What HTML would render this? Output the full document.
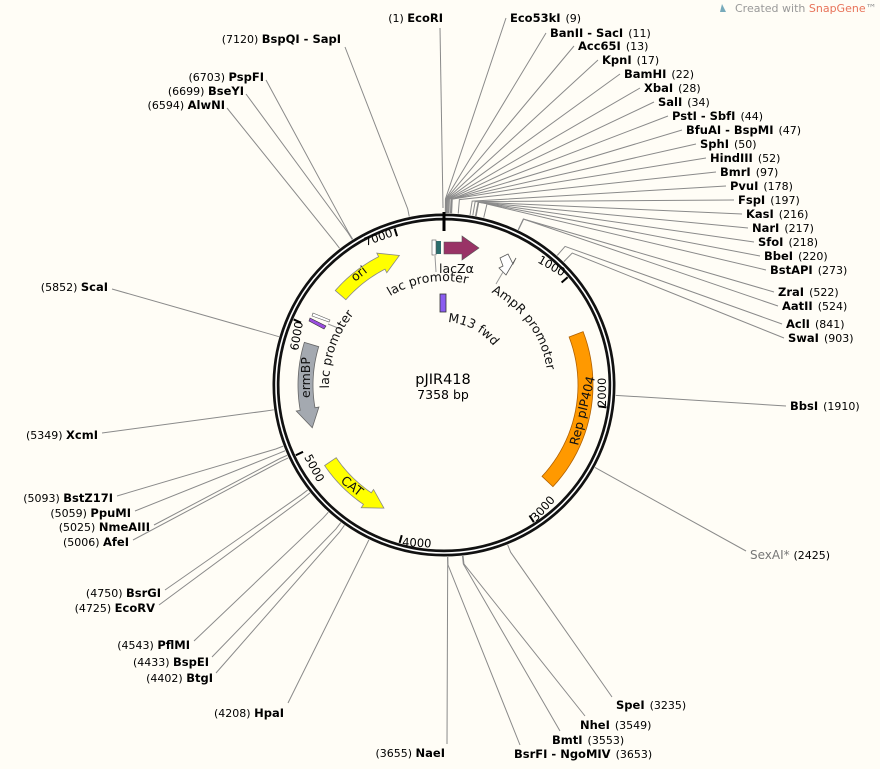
<!DOCTYPE html>
<html><head><meta charset="utf-8"><style>
body{margin:0;background:#fffdf6;}
svg{display:block;font-family:"DejaVu Sans","Liberation Sans",sans-serif;}
.n{font-weight:bold;font-size:11.5px;fill:#000}
.p{font-size:11px;fill:#000}
</style></head><body>
<svg id="s" width="880" height="769" viewBox="0 0 880 769" xmlns="http://www.w3.org/2000/svg">
<rect width="880" height="769" fill="#fffdf6"/>
<g id="lines" stroke="#8a8a8a" stroke-width="1" fill="none"></g>
<circle cx="444" cy="385" r="168" fill="none" stroke="#111" stroke-width="7"/>
<circle cx="444" cy="385" r="168" fill="none" stroke="#fff" stroke-width="1.6"/>
<line x1="444" y1="212" x2="444" y2="231" stroke="#000" stroke-width="3"/>
<g id="ticks" stroke="#000" stroke-width="2"></g>
<g font-size="11.5" fill="#000">
<text transform="translate(366,246) rotate(-20)">7000</text>
<text transform="translate(537,262) rotate(30)">1000</text>
<text transform="translate(606,407) rotate(-90)">2000</text>
<text transform="translate(536,522) rotate(-48)">3000</text>
<text transform="translate(402,546) rotate(3)">4000</text>
<text transform="translate(304,457) rotate(62)">5000</text>
<text transform="translate(298,351) rotate(-80)">6000</text>
</g>
<g id="feat"></g>
<defs>
<path id="a1" d="M 354 333 A 104 104 0 0 1 534 333"/>
<path id="a2" d="M 444 281 A 104 104 0 0 1 548 385"/>
<path id="a3" d="M 330 400 A 114 114 0 0 1 444 271"/>
<path id="a4" d="M 444 322 A 63 63 0 0 1 507 385"/>
</defs>
<g font-size="12.5" fill="#111">
<text><textPath href="#a1" startOffset="24%">lac promoter</textPath></text>
<text><textPath href="#a2" startOffset="30%">AmpR promoter</textPath></text>
<text><textPath href="#a3" startOffset="6%">lac promoter</textPath></text>
<text><textPath href="#a4" startOffset="4%">M13 fwd</textPath></text>
<text x="439" y="273">lacZα</text>
<text transform="translate(355,282) rotate(-38)">ori</text>
<text transform="translate(310,398) rotate(-90)">ermBP</text>
<text transform="translate(340,482) rotate(38)">CAT</text>
<text transform="translate(578,446) rotate(-76)">Rep pIP404</text>
</g>
<text x="443" y="384" text-anchor="middle" font-size="14.5" fill="#000">pJIR418</text>
<text x="443" y="399" text-anchor="middle" font-size="12.5" fill="#000">7358 bp</text>
<g id="labels"></g>
<text x="735" y="12" font-size="11" fill="#999">Created with <tspan fill="#e8735a">SnapGene</tspan>™</text>
<path d="M722 4 l4 8 h-6z" fill="#7ab"/>
</svg>
<script>
var cx=444,cy=385,N=7358,NS="http://www.w3.org/2000/svg";
function P(bp,r){var a=bp/N*2*Math.PI;return [cx+r*Math.sin(a),cy-r*Math.cos(a)];}
function A(deg,r){var a=deg*Math.PI/180;return [cx+r*Math.sin(a),cy-r*Math.cos(a)];}
function el(t,at,p){var e=document.createElementNS(NS,t);for(var k in at)e.setAttribute(k,at[k]);p.appendChild(e);return e;}
var L=document.getElementById('lines'),G=document.getElementById('labels'),T=document.getElementById('ticks'),F=document.getElementById('feat');
for(var k=1;k<=7;k++){var a=P(k*1000,164),b=P(k*1000,156);el('line',{x1:a[0],y1:a[1],x2:b[0],y2:b[1]},T);}
var R=[
[9,'Eco53kI','(9)',510,18],[11,'BanII - SacI','(11)',550,33],[13,'Acc65I','(13)',578,46],[17,'KpnI','(17)',602,60],
[22,'BamHI','(22)',624,74],[28,'XbaI','(28)',644,88],[34,'SalI','(34)',658,102],[44,'PstI - SbfI','(44)',672,116],
[47,'BfuAI - BspMI','(47)',686,130],[50,'SphI','(50)',700,144],[52,'HindIII','(52)',710,158],[97,'BmrI','(97)',720,172],
[178,'PvuI','(178)',730,186],[197,'FspI','(197)',738,200],[216,'KasI','(216)',746,214],[217,'NarI','(217)',752,228],
[218,'SfoI','(218)',758,242],[220,'BbeI','(220)',764,256],[273,'BstAPI','(273)',770,270],[522,'ZraI','(522)',778,292],
[524,'AatII','(524)',782,306],[841,'AclI','(841)',786,324],[903,'SwaI','(903)',788,338],[1910,'BbsI','(1910)',790,406]];
R.forEach(function(d){var a=P(d[0],172),b=P(d[0],178+ (d[0]<300?8:6));
 el('polyline',{points:a+' '+b+' '+(d[3]-4)+','+d[4]},L);
 var t=el('text',{x:d[3],y:d[4]+4},G);var s=el('tspan',{'class':'n'},t);s.textContent=d[1];var q=el('tspan',{'class':'p',dx:5},t);q.textContent=d[2];});
(function(){var a=P(2425,172);el('line',{x1:a[0],y1:a[1],x2:746,y2:551},L);
var t=el('text',{x:750,y:559,fill:'#777','font-size':'12'},G);t.textContent='SexAI*  ';var q=el('tspan',{'font-size':'11',fill:'#000'},t);q.textContent='(2425)';})();
[[3235,'SpeI','(3235)',616,705,612,697],[3549,'NheI','(3549)',580,725,585,716],[3553,'BmtI','(3553)',552,740,560,731],[3653,'BsrFI - NgoMIV','(3653)',514,754,520,745]].forEach(function(d){
 var a=P(d[0],172),b=P(d[0],180);el('polyline',{points:a+' '+b+' '+d[5]+','+d[6]},L);
 var t=el('text',{x:d[3],y:d[4]+4},G);var s=el('tspan',{'class':'n'},t);s.textContent=d[1];var q=el('tspan',{'class':'p',dx:5},t);q.textContent=d[2];});
var Lf=[[1,'EcoRI','(1)',443,18,440,28],[7120,'BspQI - SapI','(7120)',341,39,345,47],[6703,'PspFI','(6703)',264,77,266,80],
[6699,'BseYI','(6699)',244,91,246,94],[6594,'AlwNI','(6594)',225,105,227,108],[5852,'ScaI','(5852)',108,287,112,289],
[5349,'XcmI','(5349)',98,435,102,433],[5093,'BstZ17I','(5093)',113,498,117,496],[5059,'PpuMI','(5059)',131,513,135,511],
[5025,'NmeAIII','(5025)',150,527,154,525],[5006,'AfeI','(5006)',129,542,133,540],[4750,'BsrGI','(4750)',161,593,165,590],
[4725,'EcoRV','(4725)',155,608,159,605],[4543,'PflMI','(4543)',190,645,194,641],[4433,'BspEI','(4433)',209,662,212,657],
[4402,'BtgI','(4402)',213,678,216,673],[4208,'HpaI','(4208)',284,713,288,703],[3655,'NaeI','(3655)',445,753,447,744]];
Lf.forEach(function(d){var a=P(d[0],172),b=P(d[0],180);
 if(d[0]==1){el('line',{x1:443,y1:208,x2:d[5],y2:d[6]},L);}else el('polyline',{points:a+' '+b+' '+d[5]+','+d[6]},L);
 var t=el('text',{x:d[3],y:d[4]+4,'text-anchor':'end'},G);var q=el('tspan',{'class':'p'},t);q.textContent=d[2]+'  ';var s=el('tspan',{'class':'n'},t);s.textContent=d[1];});
function arc(d1,d2,r1,r2,head,fill,stroke){
 var p=[],i,n=24,hd=8*(d2>d1?1:-1);
 var s1=d1,s2=d2;if(head==1)s2=d2-hd;if(head==-1)s1=d1+hd;
 for(i=0;i<=n;i++)p.push(A(s1+(s2-s1)*i/n,r2));
 if(head==1){p.push(A(s2,r2+4));p.push(A(d2,(r1+r2)/2));p.push(A(s2,r1-4));}
 for(i=n;i>=0;i--)p.push(A(s1+(s2-s1)*i/n,r1));
 if(head==-1){p.push(A(s1,r1-4));p.push(A(d1,(r1+r2)/2));p.push(A(s1,r2+4));}
 el('polygon',{points:p.join(' '),fill:fill,stroke:stroke,'stroke-width':0.8},F);}
arc(-49,-19,130,144,1,'#ffff00','#888');
arc(-73,-108,131,146,1,'#a4a9b0','#666');
arc(236,206,130,144,1,'#ffff00','#888');
arc(133,69,134,149,0,'#ff9900','#b06000');
el('polygon',{points:'444,242 462,242 462,236 479,248 462,260 462,254 444,254',fill:'#993366',stroke:'#555','stroke-width':0.6},F);
el('rect',{x:436,y:241,width:5,height:13,fill:'#2b6d6d'},F);
el('rect',{x:432,y:240,width:4,height:15,fill:'#fff',stroke:'#555','stroke-width':0.6},F);
el('line',{x1:435,y1:256,x2:436,y2:272,stroke:'#999'},F);
el('rect',{x:440,y:294,width:6,height:18,fill:'#8a5cf0',stroke:'#333','stroke-width':0.8},F);
el('polygon',{points:'500,258 508,254 513,264 516,258 506,275 499,268 503,266',fill:'#fff',stroke:'#555','stroke-width':0.8},F);
el('line',{x1:503,y1:272,x2:496,y2:284,stroke:'#999'},F);
el('polygon',{points:'310,318 326,326 324,329 309,321',fill:'#9b4de0',stroke:'#333','stroke-width':0.6},F);
el('polygon',{points:'313,313 330,320 329,322 312,316',fill:'#fff',stroke:'#555','stroke-width':0.6},F);
el('line',{x1:328,y1:324,x2:343,y2:330,stroke:'#999'},F);
</script>
</body></html>
